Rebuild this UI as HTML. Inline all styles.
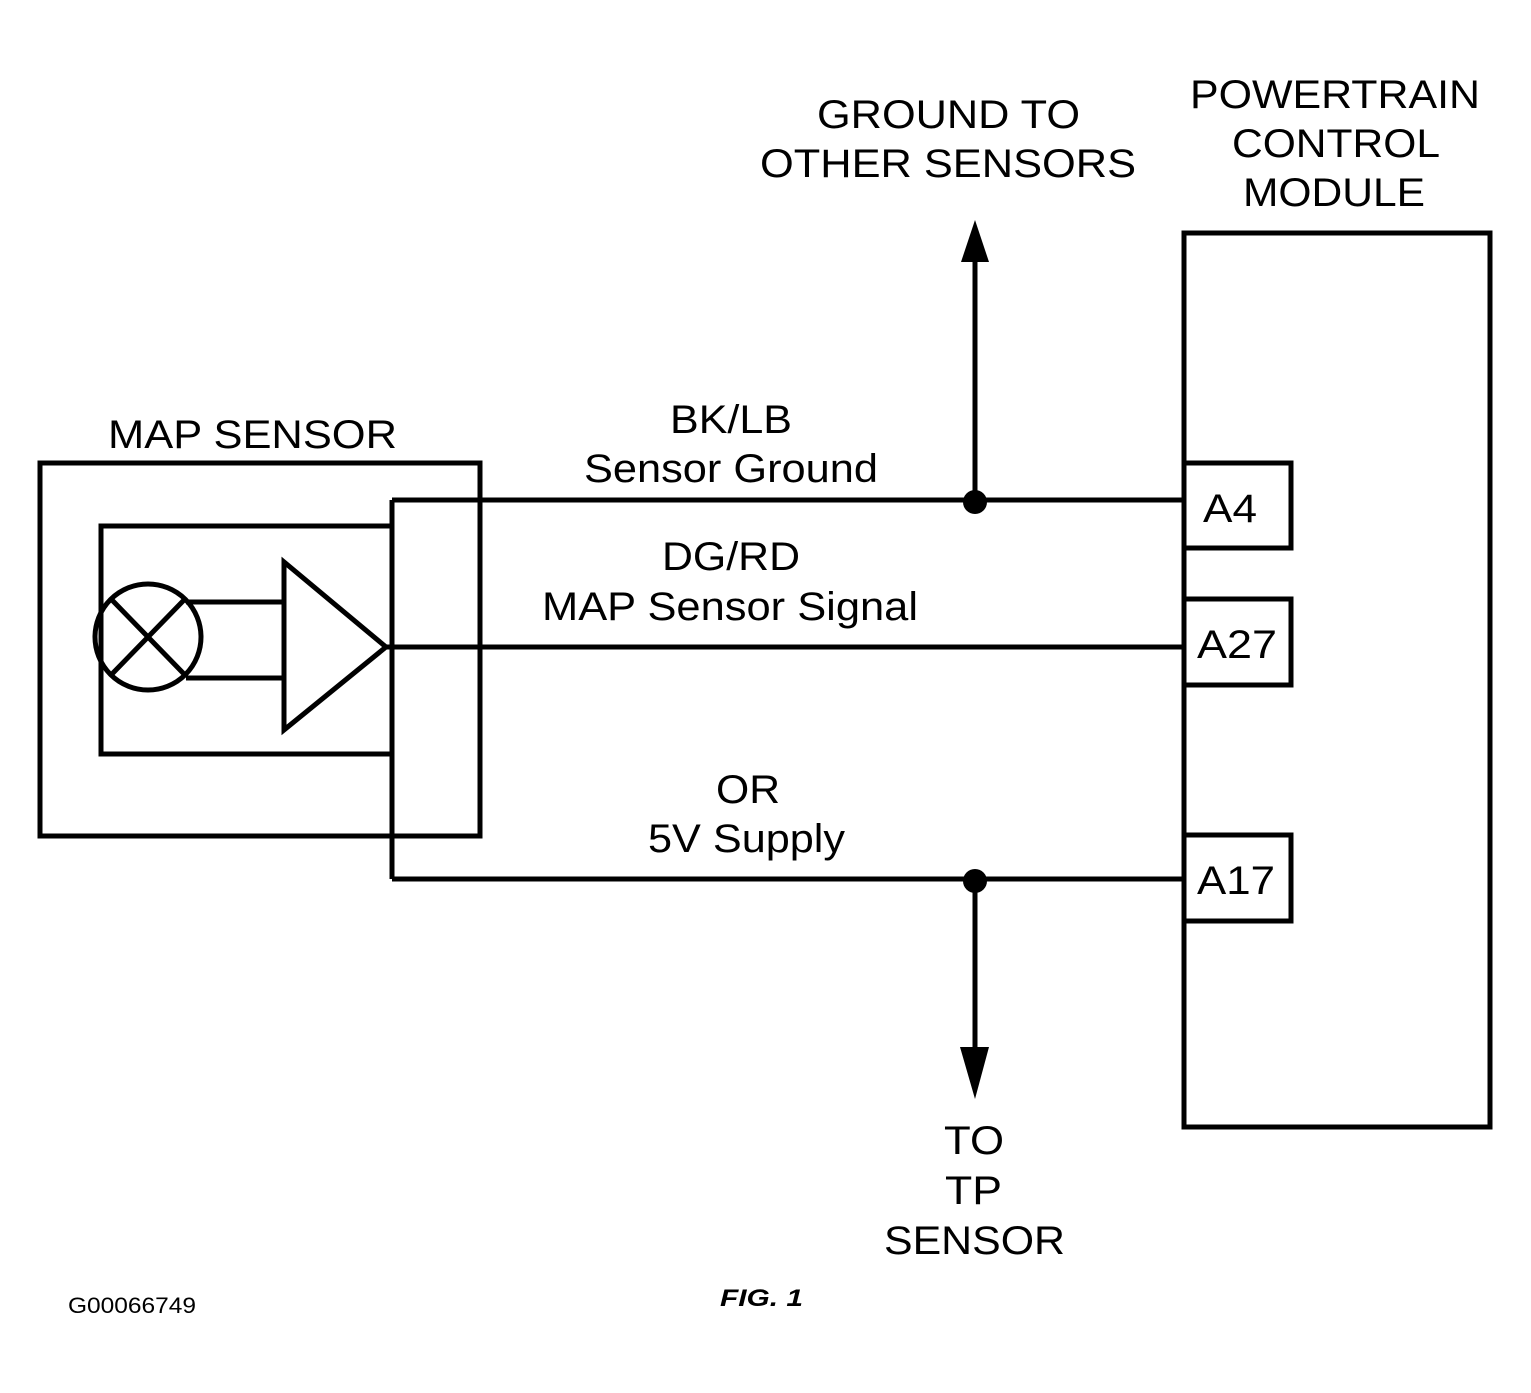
<!DOCTYPE html>
<html><head><style>
body{margin:0;background:#fff}
svg text{font-family:"Liberation Sans",sans-serif;fill:#000}
</style></head><body>
<svg width="1531" height="1388" viewBox="0 0 1531 1388" xmlns="http://www.w3.org/2000/svg">
<g fill="none" stroke="#000" stroke-width="5">
<rect x="40" y="463" width="440" height="373"/>
<polyline points="392,526 101,526 101,754 392,754"/>
<line x1="392" y1="500" x2="392" y2="879"/>
<line x1="392" y1="500" x2="1185" y2="500"/>
<line x1="392" y1="879" x2="1185" y2="879"/>
<line x1="387" y1="647" x2="1185" y2="647"/>
<circle cx="148" cy="637" r="53"/>
<line x1="112" y1="600" x2="184" y2="674"/>
<line x1="184" y1="600" x2="112" y2="674"/>
<line x1="186" y1="602" x2="283" y2="602"/>
<line x1="186" y1="678" x2="283" y2="678"/>
<polygon points="284,562 284,730 386,647"/>
<rect x="1184" y="233" width="306" height="894"/>
<rect x="1184" y="463" width="107" height="85"/>
<rect x="1184" y="599" width="107" height="86"/>
<rect x="1184" y="835" width="107" height="86"/>
<line x1="975" y1="255" x2="975" y2="500"/>
<line x1="975" y1="879" x2="975" y2="1055"/>
</g>
<circle cx="975" cy="502" r="12"/>
<circle cx="975" cy="881" r="12"/>
<polygon points="975,220 961,262 989,262"/>
<polygon points="975,1099 960,1047 989,1047"/>
<g font-size="40" lengthAdjust="spacingAndGlyphs">
<text x="108" y="448" textLength="289" lengthAdjust="spacingAndGlyphs">MAP SENSOR</text>
<text x="817" y="128" textLength="263" lengthAdjust="spacingAndGlyphs">GROUND TO</text>
<text x="760" y="177" textLength="376" lengthAdjust="spacingAndGlyphs">OTHER SENSORS</text>
<text x="1190" y="108" textLength="290" lengthAdjust="spacingAndGlyphs">POWERTRAIN</text>
<text x="1232" y="157" textLength="208" lengthAdjust="spacingAndGlyphs">CONTROL</text>
<text x="1243" y="206" textLength="182" lengthAdjust="spacingAndGlyphs">MODULE</text>
<text x="670" y="433" textLength="122" lengthAdjust="spacingAndGlyphs">BK/LB</text>
<text x="584" y="482" textLength="294" lengthAdjust="spacingAndGlyphs">Sensor Ground</text>
<text x="662" y="570" textLength="138" lengthAdjust="spacingAndGlyphs">DG/RD</text>
<text x="542" y="620" textLength="376" lengthAdjust="spacingAndGlyphs">MAP Sensor Signal</text>
<text x="716" y="803" textLength="64" lengthAdjust="spacingAndGlyphs">OR</text>
<text x="648" y="852" textLength="197" lengthAdjust="spacingAndGlyphs">5V Supply</text>
<text x="1203" y="522" textLength="54" lengthAdjust="spacingAndGlyphs">A4</text>
<text x="1197" y="658" textLength="80" lengthAdjust="spacingAndGlyphs">A27</text>
<text x="1197" y="894" textLength="78" lengthAdjust="spacingAndGlyphs">A17</text>
<text x="944" y="1154" textLength="60" lengthAdjust="spacingAndGlyphs">TO</text>
<text x="945" y="1204" textLength="57" lengthAdjust="spacingAndGlyphs">TP</text>
<text x="884" y="1254" textLength="181" lengthAdjust="spacingAndGlyphs">SENSOR</text>
</g>
<text x="68" y="1313" font-size="22" textLength="128" lengthAdjust="spacingAndGlyphs">G00066749</text>
<text x="720" y="1306" font-size="24" font-weight="bold" font-style="italic" textLength="83" lengthAdjust="spacingAndGlyphs">FIG. 1</text>
</svg>
</body></html>
